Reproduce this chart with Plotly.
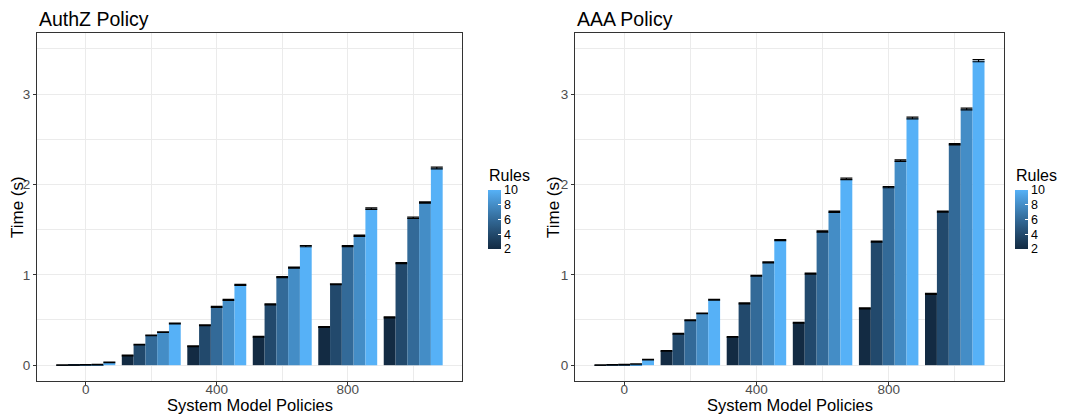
import plotly.graph_objects as go

# ---------------- data ----------------
policies = [0, 200, 400, 600, 800, 1000]
rules = [2, 4, 6, 8, 10]

authz_r2 = [0.002, 0.108, 0.209, 0.315, 0.422, 0.529]
authz_r4 = [0.003, 0.227, 0.442, 0.673, 0.895, 1.128]
authz_r6 = [0.004, 0.330, 0.645, 0.974, 1.317, 1.630]
authz_r8 = [0.006, 0.366, 0.723, 1.079, 1.432, 1.800]
authz_r10 = [0.032, 0.462, 0.889, 1.317, 1.732, 2.182]

authz_e2 = [0.002, 0.004, 0.004, 0.005, 0.005, 0.005]
authz_e4 = [0.002, 0.004, 0.005, 0.005, 0.005, 0.006]
authz_e6 = [0.002, 0.004, 0.005, 0.006, 0.006, 0.007]
authz_e8 = [0.002, 0.004, 0.005, 0.006, 0.006, 0.007]
authz_e10 = [0.003, 0.004, 0.005, 0.007, 0.008, 0.010]

aaa_r2 = [0.002, 0.158, 0.313, 0.470, 0.629, 0.788]
aaa_r4 = [0.004, 0.348, 0.684, 1.014, 1.366, 1.700]
aaa_r6 = [0.006, 0.498, 0.990, 1.479, 1.970, 2.444]
aaa_r8 = [0.013, 0.573, 1.137, 1.697, 2.263, 2.834]
aaa_r10 = [0.062, 0.724, 1.384, 2.061, 2.735, 3.369]

aaa_e2 = [0.002, 0.004, 0.004, 0.005, 0.005, 0.006]
aaa_e4 = [0.002, 0.004, 0.005, 0.006, 0.006, 0.006]
aaa_e6 = [0.002, 0.004, 0.005, 0.006, 0.007, 0.007]
aaa_e8 = [0.002, 0.004, 0.005, 0.007, 0.008, 0.010]
aaa_e10 = [0.003, 0.004, 0.006, 0.008, 0.010, 0.012]

panel_titles = ["AuthZ Policy", "AAA Policy"]
x_title = "System Model Policies"
y_title = "Time (s)"
legend_title = "Rules"

authz = [authz_r2, authz_r4, authz_r6, authz_r8, authz_r10]
authz_err = [authz_e2, authz_e4, authz_e6, authz_e8, authz_e10]
aaa = [aaa_r2, aaa_r4, aaa_r6, aaa_r8, aaa_r10]
aaa_err = [aaa_e2, aaa_e4, aaa_e6, aaa_e8, aaa_e10]


# ---------------- ggplot default gradient (Lab interpolation) ----------------
def _hex2rgb(h):
    h = h.lstrip("#")
    return [int(h[i:i + 2], 16) for i in (0, 2, 4)]


def _lin(c):
    c = c / 255.0
    return c / 12.92 if c <= 0.04045 else ((c + 0.055) / 1.055) ** 2.4


def _delin(c):
    c = 12.92 * c if c <= 0.0031308 else 1.055 * c ** (1 / 2.4) - 0.055
    return max(0, min(255, round(c * 255)))


WN = (0.95047, 1.0, 1.08883)


def _rgb2lab(rgb):
    r, g, b = [_lin(v) for v in rgb]
    X = 0.4124 * r + 0.3576 * g + 0.1805 * b
    Y = 0.2126 * r + 0.7152 * g + 0.0722 * b
    Z = 0.0193 * r + 0.1192 * g + 0.9505 * b

    def f(t):
        return t ** (1 / 3) if t > 0.008856 else 7.787 * t + 16 / 116

    fx, fy, fz = f(X / WN[0]), f(Y / WN[1]), f(Z / WN[2])
    return (116 * fy - 16, 500 * (fx - fy), 200 * (fy - fz))


def _lab2rgb(lab):
    L, a, bb = lab
    fy = (L + 16) / 116
    fx = fy + a / 500
    fz = fy - bb / 200

    def finv(t):
        return t ** 3 if t ** 3 > 0.008856 else (t - 16 / 116) / 7.787

    X, Y, Z = WN[0] * finv(fx), WN[1] * finv(fy), WN[2] * finv(fz)
    r = 3.2406 * X - 1.5372 * Y - 0.4986 * Z
    g = -0.9689 * X + 1.8758 * Y + 0.0415 * Z
    b = 0.0557 * X - 0.2040 * Y + 1.0570 * Z
    return "#%02X%02X%02X" % (_delin(r), _delin(g), _delin(b))


lo, hi = _rgb2lab(_hex2rgb("#132B43")), _rgb2lab(_hex2rgb("#56B1F7"))
n = 20
colorscale = [[i / n, _lab2rgb(tuple(lo[k] + (hi[k] - lo[k]) * i / n for k in range(3)))]
              for i in range(n + 1)]

# ---------------- figure ----------------
W, H = 1070, 415
fig = go.Figure()

panels = [
    dict(data=authz, err=authz_err, xa="x", ya="y", ca="coloraxis"),
    dict(data=aaa, err=aaa_err, xa="x2", ya="y2", ca="coloraxis2"),
]

for p in panels:
    for r, vals, errs in zip(rules, p["data"], p["err"]):
        fig.add_trace(go.Bar(
            x=policies, y=vals, name=str(r),
            marker=dict(color=[r] * len(policies), coloraxis=p["ca"], line=dict(width=0)),
            error_y=dict(type="data", array=errs, color="black", thickness=1.2, width=6),
            xaxis=p["xa"], yaxis=p["ya"], showlegend=False,
        ))

font_family = "Liberation Sans, Arial, sans-serif"
grid = "#EBEBEB"
frame = "#333333"

left_dom = [37 / W, 462 / W]
right_dom = [575 / W, 1004 / W]
y_dom = [1 - 381 / H, 1 - 33 / H]


def xaxis(dom, anchor):
    return dict(domain=dom, anchor=anchor, range=[-149, 1149], tickmode="linear", tick0=0, dtick=400,
                showgrid=True, gridcolor=grid, gridwidth=1.1,
                minor=dict(tick0=0, dtick=200, showgrid=True, gridcolor=grid, gridwidth=0.6),
                showline=True, linecolor=frame, linewidth=1.1, mirror=True,
                ticks="outside", ticklen=3, tickcolor=frame, tickwidth=1, ticklabelstandoff=-7,
                tickfont=dict(size=13.5, color="#4D4D4D"), zeroline=False, fixedrange=True)


def yaxis(anchor):
    return dict(domain=y_dom, anchor=anchor, range=[-0.175, 3.675], tickmode="linear", tick0=0, dtick=1,
                showgrid=True, gridcolor=grid, gridwidth=1.1,
                minor=dict(tick0=0, dtick=0.5, showgrid=True, gridcolor=grid, gridwidth=0.6),
                showline=True, linecolor=frame, linewidth=1.1, mirror=True,
                ticks="outside", ticklen=3, tickcolor=frame, tickwidth=1,
                tickfont=dict(size=13.5, color="#4D4D4D"), zeroline=False, fixedrange=True)


def cbar(xpx):
    return dict(
        colorscale=colorscale, cmin=2, cmax=10,
        colorbar=dict(
            x=xpx / W, xanchor="left", xpad=0,
            y=1 - 249 / H, yanchor="bottom", ypad=0,
            len=59, lenmode="pixels", thickness=13, thicknessmode="pixels",
            outlinewidth=0, tickmode="array", tickvals=rules, ticktext=[str(v) for v in rules],
            ticks="inside", ticklen=2.5, tickcolor="white", tickwidth=1,
            tickfont=dict(size=12.5, color="black"),
        ),
    )


fig.update_layout(
    width=W, height=H,
    margin=dict(l=0, r=0, t=0, b=0),
    paper_bgcolor="white", plot_bgcolor="white",
    font=dict(family=font_family, color="black"),
    barmode="group", bargap=0.1, bargroupgap=0,
    xaxis=xaxis(left_dom, "y"), yaxis=yaxis("x"),
    xaxis2=xaxis(right_dom, "y2"), yaxis2=yaxis("x2"),
    coloraxis=cbar(488), coloraxis2=cbar(1015),
)

ann = []
for dom, title in zip([left_dom, right_dom], panel_titles):
    ann.append(dict(text=title, x=dom[0], y=1 - 19 / H, xref="paper", yref="paper",
                    xanchor="left", yanchor="middle", showarrow=False,
                    font=dict(size=19.5, color="black")))
    ann.append(dict(text=x_title, x=(dom[0] + dom[1]) / 2, y=1 - 405 / H, xref="paper", yref="paper",
                    xanchor="center", yanchor="middle", showarrow=False,
                    font=dict(size=16.5, color="black")))
ann.append(dict(text=y_title, x=17 / W, y=1 - 207 / H, xref="paper", yref="paper", textangle=-90,
                xanchor="center", yanchor="middle", showarrow=False, font=dict(size=17, color="black")))
ann.append(dict(text=y_title, x=553 / W, y=1 - 207 / H, xref="paper", yref="paper", textangle=-90,
                xanchor="center", yanchor="middle", showarrow=False, font=dict(size=17, color="black")))
for xpx in (488, 1015):
    ann.append(dict(text=legend_title, x=(xpx - 1) / W, y=1 - 175 / H, xref="paper", yref="paper",
                    xanchor="left", yanchor="middle", showarrow=False, font=dict(size=16, color="black")))
fig.update_layout(annotations=ann)

fig.write_html("out.html", config=dict(displayModeBar=False),
               post_script="document.body.style.margin='0';document.body.style.overflow='hidden';")
